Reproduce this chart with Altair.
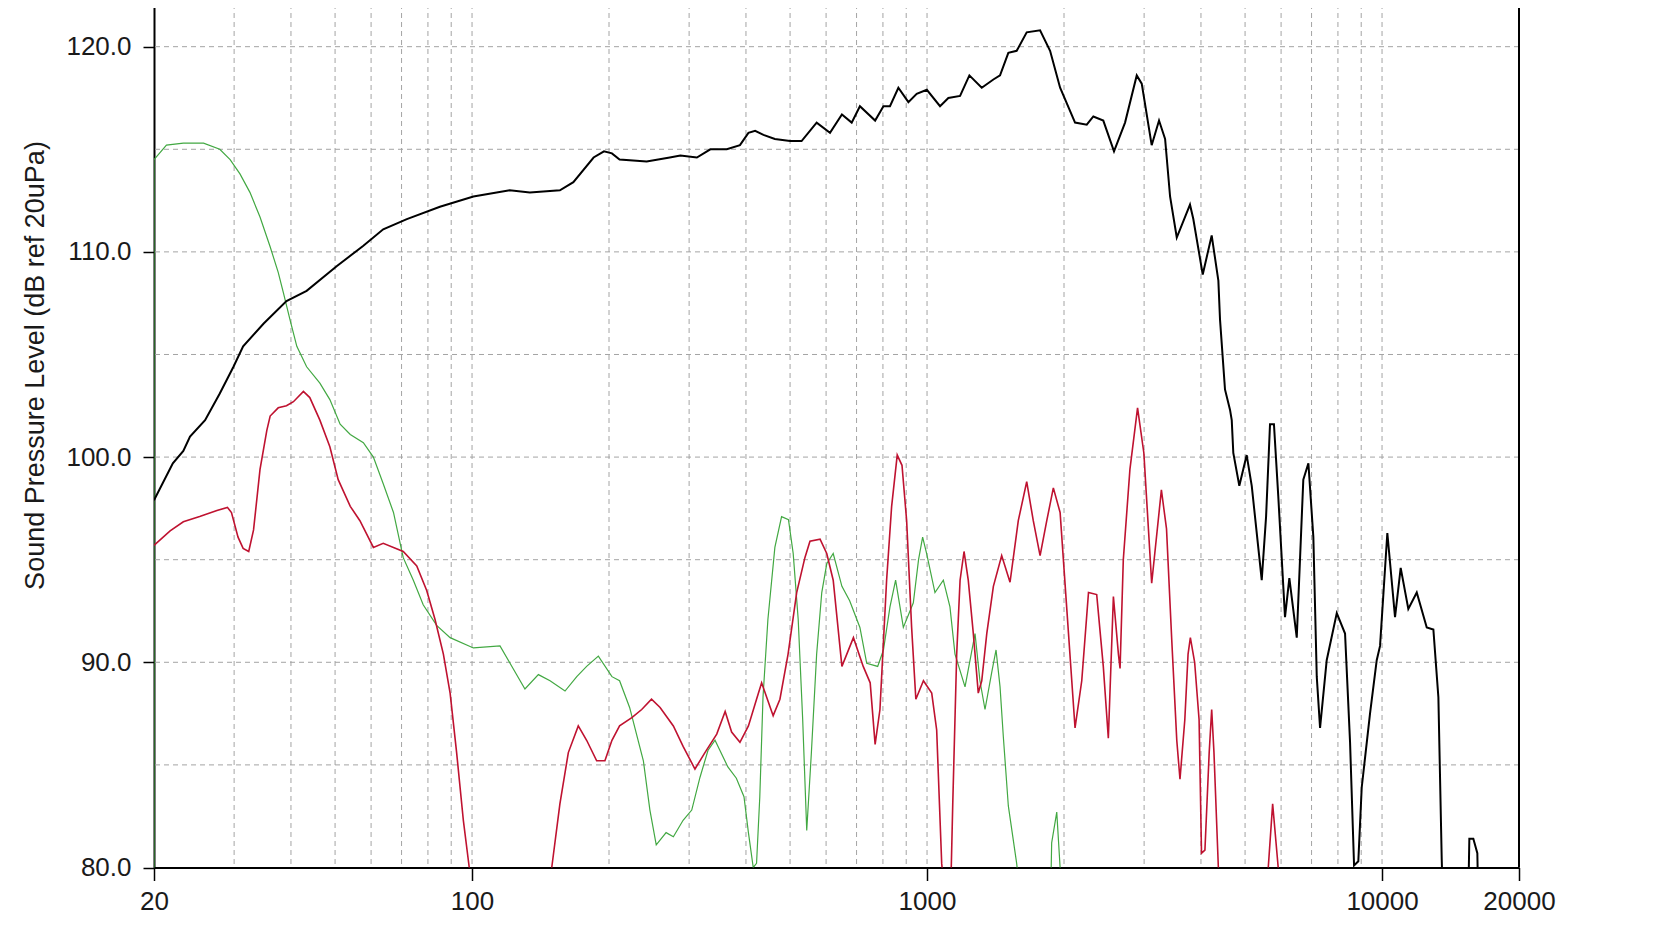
import altair as alt
import pandas as pd

# ---------------- data ----------------
black_freq = [20, 22.0, 23.2, 24.0, 25.9, 27.9, 29.9, 31.4, 34.8, 39.1, 43.3, 50.4, 57.7, 63.8, 71.9, 85.0,
              100.7, 121, 134, 156, 167, 185, 195, 203, 211, 242, 272, 287, 312, 334, 363, 388, 405, 419, 437,
              463, 500, 530, 572, 612, 650, 683, 712, 769, 802, 829, 865, 910, 949, 999, 1068, 1114, 1182, 1239,
              1319, 1399, 1447, 1509, 1574, 1656, 1772, 1864, 1961, 2115, 2244, 2320, 2440, 2576, 2724, 2890,
              2964, 3117, 3235, 3336, 3421, 3539, 3784, 3848, 4036, 4223, 4368, 4405, 4517, 4634, 4674, 4711,
              4857, 5041, 5172, 5440, 5561, 5673, 5787, 5915, 6120, 6256, 6495, 6714, 6889, 7064, 7187, 7308,
              7558, 7953, 8293, 8506, 8680, 8869, 9023, 9410, 9735, 9900, 10272, 10680, 10990, 11423, 11921,
              12540, 12967, 13300, 13527, 13700, 15400, 15556, 15873, 16198, 16350]
black_db = [97.9, 99.7, 100.3, 101.0, 101.8, 103.1, 104.4, 105.4, 106.5, 107.6, 108.1, 109.3, 110.3, 111.1,
            111.6, 112.2, 112.7, 113.0, 112.9, 113.0, 113.4, 114.6, 114.9, 114.8, 114.5, 114.4, 114.6, 114.7,
            114.6, 115.0, 115.0, 115.2, 115.8, 115.9, 115.7, 115.5, 115.4, 115.4, 116.3, 115.8, 116.7, 116.3,
            117.1, 116.4, 117.1, 117.1, 118.0, 117.3, 117.7, 117.9, 117.1, 117.5, 117.6, 118.6, 118.0, 118.4,
            118.6, 119.7, 119.8, 120.7, 120.8, 119.8, 118.0, 116.3, 116.2, 116.6, 116.4, 114.9, 116.3, 118.6,
            118.2, 115.2, 116.4, 115.5, 112.7, 110.7, 112.3, 111.6, 108.9, 110.8, 108.6, 106.7, 103.3, 102.3,
            101.8, 100.2, 98.6, 100.1, 98.6, 94.0, 97.1, 101.6, 101.6, 98.1, 92.2, 94.1, 91.2, 98.9, 99.7,
            96.1, 89.3, 86.8, 90.1, 92.4, 91.4, 86.1, 80.1, 80.3, 83.9, 87.5, 90.1, 90.8, 96.3, 92.2, 94.6,
            92.6, 93.4, 91.7, 91.6, 88.3, 80.4, 76, 76, 81.4, 81.4, 80.7, 76]

red_freq = [20, 21.7, 23.2, 25.2, 27.5, 29.0, 29.6, 30.6, 31.4, 32.3, 33.1, 34.2, 35.4, 36.0, 37.5, 39.1, 40.5,
            42.6, 44.0, 46.3, 48.7, 50.8, 54.0, 56.7, 60.7, 63.8, 70.6, 75.6, 79.5, 82.9, 86.5, 89.5, 92.5,
            95.7, 98.6, 101, 148, 149.7, 156, 162.8, 171.2, 178.6, 187.9, 195.9, 203, 211, 224.5, 236, 248,
            259, 277, 291, 309, 325, 345, 360, 372, 388, 405, 422, 433, 459, 475, 495, 517, 539, 553, 582, 602,
            622, 650, 689, 724, 750, 769, 788, 815, 836, 860, 881, 902, 925, 945, 982, 1024, 1050, 1077, 1100,
            1125, 1139, 1162, 1182, 1206, 1232, 1264, 1296, 1319, 1353, 1399, 1459, 1522, 1587, 1656, 1712,
            1772, 1833, 1895, 1961, 2027, 2115, 2188, 2264, 2360, 2440, 2503, 2568, 2634, 2656, 2700, 2792,
            2902, 2996, 3117, 3274, 3360, 3450, 3539, 3597, 3686, 3747, 3791, 3874, 3962, 4011, 4081, 4170,
            4223, 4272, 4368, 4450, 5560, 5623, 5749, 5913, 6000]
red_db = [95.7, 96.4, 96.85, 97.1, 97.4, 97.55, 97.3, 96.1, 95.55, 95.4, 96.45, 99.4, 101.3, 102.0, 102.4,
          102.5, 102.7, 103.2, 102.9, 101.8, 100.5, 98.9, 97.6, 96.9, 95.6, 95.8, 95.4, 94.7, 93.5, 92.1, 90.4,
          88.5, 85.6, 82.3, 80.0, 78, 78, 80.0, 83.1, 85.6, 86.9, 86.2, 85.2, 85.2, 86.2, 86.9, 87.3, 87.7,
          88.2, 87.8, 86.9, 85.9, 84.8, 85.6, 86.5, 87.6, 86.6, 86.1, 86.9, 88.2, 89.0, 87.4, 88.2, 90.4,
          93.4, 95.1, 95.9, 96.0, 95.3, 94.0, 89.8, 91.2, 89.8, 89.0, 86.0, 87.7, 94.0, 97.6, 100.1, 99.6,
          96.9, 91.7, 88.2, 89.1, 88.5, 86.7, 80.2, 78, 78, 83.1, 90.4, 94.0, 95.4, 94.0, 91.4, 88.5, 89.1,
          91.4, 93.7, 95.2, 93.9, 96.9, 98.8, 96.9, 95.2, 96.9, 98.5, 97.3, 92.7, 86.8, 89.1, 93.4, 93.3,
          89.8, 86.3, 93.2, 90.4, 89.7, 95.0, 99.4, 102.4, 100.2, 93.85, 98.4, 96.5, 91.1, 86.2, 84.3, 87.2,
          90.4, 91.2, 90.0, 87.2, 80.7, 80.85, 85.6, 87.7, 85.6, 80.0, 77, 77, 80, 83.1, 80, 77]

green_freq = [20, 20, 21.3, 23.2, 25.7, 27.9, 29.4, 30.9, 32.5, 34.2, 36.0, 37.5, 38.5, 39.8, 41.2, 43.3, 46.3,
              48.7, 51.3, 54.0, 57.7, 60.7, 63.8, 67.2, 70.6, 74.3, 78.1, 83.6, 89.5, 100.7, 115.2, 121.2,
              130.7, 139.9, 148.4, 160.1, 169.9, 178.6, 189.5, 203, 211, 222, 238, 246, 254, 267, 277, 291,
              304, 317, 330, 342, 365, 381, 396, 405, 415, 422, 429, 436, 447, 463, 479, 496, 508, 521, 533,
              544, 557, 572, 587, 602, 622, 650, 676, 712, 737, 779, 802, 829, 853, 887, 933, 958, 978, 998,
              1041, 1086, 1123, 1152, 1212, 1275, 1307, 1341, 1387, 1418, 1447, 1471, 1509, 1574, 1650, 1860,
              1879, 1928, 1961, 2000]
green_db = [75, 114.5, 115.2, 115.3, 115.3, 115.0, 114.5, 113.8, 112.9, 111.7, 110.25, 109.0, 108.0, 106.7,
            105.4, 104.4, 103.6, 102.8, 101.6, 101.1, 100.7, 100.0, 98.7, 97.3, 95.1, 94.0, 92.8, 91.8, 91.2,
            90.7, 90.8, 89.95, 88.7, 89.4, 89.1, 88.6, 89.3, 89.8, 90.3, 89.3, 89.1, 87.8, 85.2, 82.8, 81.1,
            81.7, 81.5, 82.3, 82.8, 84.4, 85.7, 86.2, 84.9, 84.35, 83.45, 81.7, 80.0, 80.2, 83.45, 88.3, 92.1,
            95.6, 97.1, 96.95, 95.3, 92.1, 87.2, 81.8, 85.6, 90.4, 93.4, 94.8, 95.3, 93.7, 93.0, 91.7, 89.95,
            89.8, 90.6, 92.7, 94.0, 91.7, 92.9, 95.0, 96.1, 95.3, 93.4, 94.0, 92.7, 90.4, 88.8, 91.4, 89.1,
            87.7, 89.5, 90.6, 88.8, 86.4, 83.0, 80.2, 76, 76, 81.2, 82.7, 80, 76]

x_tick_values = [20, 100, 1000, 10000, 20000]
y_tick_values = [80, 90, 100, 110, 120]
grid_db = [85, 90, 95, 100, 105, 110, 115, 120]
grid_freq = [30, 40, 50, 60, 70, 80, 90, 100, 200, 300, 400, 500, 600, 700, 800, 900,
             1000, 2000, 3000, 4000, 5000, 6000, 7000, 8000, 9000, 10000]
y_title = "Sound Pressure Level (dB ref 20uPa)"

# ---------------- chart ----------------
W = 1365
H = 863.5
X_SCALE = alt.Scale(type="log", domain=[20, 20000], nice=False)
Y_SCALE = alt.Scale(domain=[80, 122.08], nice=False, zero=False)
LABEL_FONT = "Liberation Sans, Arial, sans-serif"
TEXT_COLOR = "#1a1a1a"

x_axis = alt.Axis(values=x_tick_values, format="d", title=None, grid=False,
                  domainColor="#000000", domainWidth=2, tickColor="#000000", tickWidth=1.5,
                  tickSize=13, labelFont=LABEL_FONT, labelFontSize=26, labelColor=TEXT_COLOR,
                  labelPadding=8, labelFlush=False, labelOverlap=False, labelBound=False)
y_axis = alt.Axis(values=y_tick_values, format=".1f", title=y_title, grid=False,
                  domainColor="#000000", domainWidth=2, tickColor="#000000", tickWidth=1.5,
                  tickSize=11, labelFont=LABEL_FONT, labelFontSize=26, labelColor=TEXT_COLOR,
                  labelPadding=12, labelOverlap=False, labelBound=False,
                  titleFont=LABEL_FONT, titleFontSize=27, titleFontWeight="normal",
                  titleColor=TEXT_COLOR, titleAngle=270, titleAlign="center",
                  titleBaseline="middle", titleX=-119, titleY=361)


def X(field):
    return alt.X(f"{field}:Q", scale=X_SCALE, axis=x_axis)


def Y(field):
    return alt.Y(f"{field}:Q", scale=Y_SCALE, axis=y_axis)


grid_style = dict(color="#a4a4a4", strokeDash=[5, 4], strokeWidth=1)
vgrid = alt.Chart(pd.DataFrame({"freq": grid_freq})).mark_rule(**grid_style).encode(x=X("freq"))
hgrid = alt.Chart(pd.DataFrame({"spl": grid_db})).mark_rule(**grid_style).encode(y=Y("spl"))


def curve(freq, db, color, width):
    df = pd.DataFrame({"freq": freq, "spl": db, "i": list(range(len(freq)))})
    return alt.Chart(df).mark_line(color=color, strokeWidth=width, clip=True).encode(
        x=X("freq"), y=Y("spl"), order=alt.Order("i:Q"))


green = curve(green_freq, green_db, "#42a842", 1.2)
red = curve(red_freq, red_db, "#bf1230", 1.6)
black = curve(black_freq, black_db, "#000000", 2)

frame_df = pd.DataFrame({"k": [0]})
right_border = alt.Chart(frame_df).mark_rule(color="#000000", strokeWidth=2).encode(
    x=alt.value(W), y=alt.value(0), y2=alt.value(H))

chart = alt.layer(vgrid, hgrid, green, red, black, right_border).properties(
    width=W, height=H,
    padding={"left": 146, "top": -4, "right": 130, "bottom": 48},
    autosize=alt.AutoSizeParams(type="none"),
    background="white",
).configure_view(stroke=None)

chart.save("out.html", embed_options={"renderer": "svg", "actions": False})
